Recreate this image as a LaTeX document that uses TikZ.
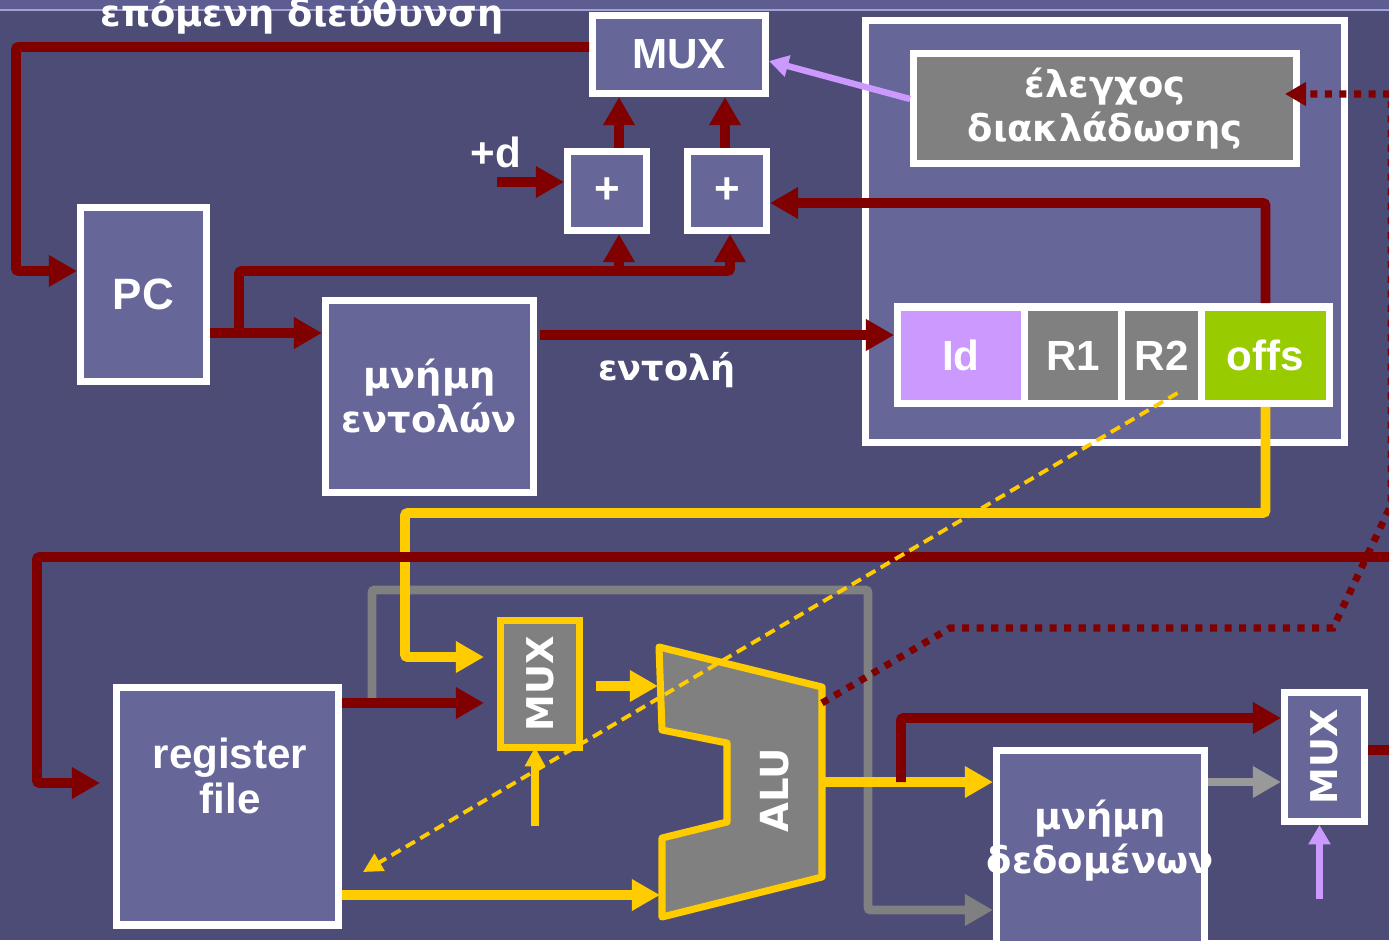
\documentclass[tikz,border=0pt]{standalone}
\usepackage{fontspec}
\setmainfont{Liberation Sans}
\newfontfamily\grfont{DejaVu Sans}
\usepackage{tikz}
\usetikzlibrary{arrows.meta, calc, positioning}
\definecolor{bgcol}{HTML}{4D4C77}
\definecolor{boxcol}{HTML}{666699}
\definecolor{bandcol}{HTML}{5E5D91}
\definecolor{bandline}{HTML}{A3A1D3}
\definecolor{darkred}{HTML}{800000}
\definecolor{busyel}{HTML}{FFCC00}
\definecolor{busgray}{HTML}{808080}
\definecolor{lightbus}{HTML}{999999}
\definecolor{lav}{HTML}{CC99FF}
\definecolor{offsgreen}{HTML}{99CC00}

\begin{document}
\begin{tikzpicture}[x=0.02cm, y=-0.02cm,
    blk/.style={draw=white, line width=4pt, fill=boxcol, text=white, inner sep=0pt,
      font=\bfseries\fontsize{24}{27}\selectfont},
    cell/.style={fill=#1, text=white, inner sep=0pt, outer sep=0pt, minimum height=1.78cm,
      font=\bfseries\fontsize{24}{26}\selectfont},
    lbl/.style={text=white, align=center, font=\bfseries\fontsize{24}{26}\selectfont},
    grlbl/.style={text=white, align=center, font=\grfont\bfseries\fontsize{21}{25}\selectfont},
    bus/.style={line width=5.6pt, rounded corners=1.5pt},
    redarr/.style={bus, draw=darkred, -{Triangle[length=16pt, width=17pt]}},
    yelarr/.style={bus, draw=busyel, -{Triangle[length=16pt, width=17pt]}},
    grayarr/.style={bus, line width=5pt, draw=busgray, -{Triangle[length=16pt, width=17pt]}},
    lavarr/.style={draw=lav, line width=3.6pt, -{Triangle[length=11pt, width=12pt]}},
    dotarr/.style={draw=darkred, line width=4pt, dash pattern=on 4pt off 4.3pt, -{Triangle[length=12pt, width=13pt]}},
    dasharr/.style={draw=busyel, line width=2.2pt, dash pattern=on 6pt off 3.5pt, -{Triangle[length=11pt, width=11pt]}}
  ]
  \useasboundingbox (0,0) rectangle (1389,940);
  \fill[bgcol] (0,0) rectangle (1389,940);
  \fill[bandcol] (0,0) rectangle (1389,9);
  \draw[bandline, line width=1.2pt] (0,10) -- (1389,10);

  \node[grlbl, anchor=base, font=\grfont\bfseries\fontsize{21}{25}\selectfont] (title) at (302,26) {επόμενη διεύθυνση};

  \node[blk, minimum width=9.58cm, minimum height=8.44cm] (ctrl) at (1105,231.5) {};
  \node[blk, fill=busgray, minimum width=7.66cm, minimum height=2.20cm, grlbl] (branch) at (1105,108.5) {έλεγχος\\διακλάδωσης};
  \node[fill=white, inner sep=0pt, outer sep=0pt, minimum width=8.78cm, minimum height=2.08cm] (instr) at (1113.5,355) {};
  \node[cell=lav, minimum width=2.40cm] (opc) at (961,355.5) {Id};
  \node[cell=busgray, minimum width=1.80cm] (r1) at (1073,355.5) {R1};
  \node[cell=busgray, minimum width=1.46cm] (r2) at (1161.5,355.5) {R2};
  \node[cell=offsgreen, minimum width=2.42cm] (offs) at (1265.5,355.5) {offs};

  \node[blk, minimum width=3.46cm, minimum height=1.56cm] (muxtop) at (679,54.5) {MUX};
  \node[blk, minimum width=1.58cm, minimum height=1.58cm, font=\bfseries\fontsize{25}{28}\selectfont] (addL) at (607,191) {+};
  \node[blk, minimum width=1.58cm, minimum height=1.58cm, font=\bfseries\fontsize{25}{28}\selectfont] (addR) at (727,191) {+};
  \node[lbl] (dlbl) at (496,152) {+d};
  \node[blk, font=\bfseries\fontsize{25}{28}\selectfont, minimum width=2.52cm, minimum height=3.48cm] (pc) at (143.5,294.5) {PC};
  \node[blk, grlbl, minimum width=4.16cm, minimum height=3.84cm] (imem) at (429.5,396.5) {μνήμη\\εντολών};
  \node[grlbl, font=\grfont\bfseries\fontsize{20}{24}\selectfont] (instrlbl) at (667,370) {εντολή};

  \node[blk, minimum width=4.44cm, minimum height=4.76cm] (regfile) at (227.5,806) {};
  \node[lbl] (regtxt) at (230,776) {register\\file};
  \node[blk, draw=busyel, fill=busgray, minimum width=1.58cm, minimum height=2.54cm,
    font=\grfont\bfseries\fontsize{21}{24}\selectfont] (muxlow) at (540,684) {\rotatebox{90}{MUX}};
  \node[blk, minimum width=4.16cm, minimum height=4.12cm] (dmem) at (1100.5,853.5) {};
  \node[grlbl] (dmemtxt) at (1100,841) {μνήμη\\δεδομένων};
  \node[blk, minimum width=1.60cm, minimum height=2.58cm,
    font=\grfont\bfseries\fontsize{21}{24}\selectfont] (muxout) at (1324.5,757) {\rotatebox{90}{MUX}};

  \coordinate (aluA) at (658,686);
  \coordinate (aluB) at (660,895);
  \coordinate (aluY) at (822,782);
  \coordinate (aluD) at (822,703);
  \draw[busyel, fill=busgray, line width=4pt, line join=round] (659,647) -- (822,687) -- (822,877) -- (662,917)
    -- (662,838) -- (727,822) -- (727,743) -- (662,730) -- cycle;
  \node[text=white, rotate=90, font=\grfont\bfseries\fontsize{22}{26}\selectfont] (alutxt) at (775,790) {ALU};

  \coordinate (gbus) at (868,590);
  \draw[grayarr] ($(regfile.east)+(30,-103)$) |- (gbus) |- ($(dmem.west)+(0,56.5)$);
  \draw[grayarr, draw=lightbus] ($(dmem.east)+(0,-71.5)$) -- ($(muxout.west)+(0,25)$);

  \coordinate (ybus) at (405,513);
  \draw[yelarr] (offs.south |- instr.south) |- (ybus) |- ($(muxlow.west)+(-13,-27)$);
  \draw[yelarr] ($(regfile.east)+(0,89)$) -- (aluB);
  \draw[yelarr] ($(muxlow.east)+(13,2)$) -- (aluA);
  \draw[yelarr, line width=4.5pt, -{Triangle[length=11pt, width=11pt]}] ($(muxlow.south)+(-5,75)$) -- ($(muxlow.south)+(-5,-4)$);
  \draw[yelarr] (aluY) -- ($(dmem.west)+(0,-71.5)$);

  \draw[redarr] ($(muxtop.west)+(0,-7.5)$) -| ($(pc.west)+(-61,-23.5)$) -- ($(pc.west)+(0,-23.5)$);
  \draw[redarr] ($(pc.east)+(0,38.5)$) -- ($(imem.west)+(0,-63.5)$);
  \coordinate (fork) at ($(pc.east)+(29,38.5)$);
  \draw[redarr] (fork) |- ($(addR.south)+(3,37)$) -- ($(addR.south)+(3,0)$);
  \draw[redarr] ($(addL.south)+(12,37)$) -- ($(addL.south)+(12,0)$);
  \draw[redarr] ($(addL.north)+(12,0)$) -- ($(muxtop.south)+(-60,0)$);
  \draw[redarr] ($(addR.north)+(-2,0)$) -- ($(muxtop.south)+(46,0)$);
  \draw[redarr] ($(addL.west)+(-67,-9)$) -- ($(addL.west)+(0,-9)$);
  \draw[redarr] ($(imem.east)+(3,-61.5)$) -- ($(instr.west)+(0,-20)$);
  \draw[redarr] (offs.north |- instr.north) |- ($(addR.east)+(0,12)$);
  \coordinate (wbin) at (1389,557);
  \draw[redarr] (wbin) -| ($(regfile.west)+(-76,-23)$) -- ($(regfile.west)+(-13,-23)$);
  \draw[redarr] ($(regfile.east)+(0,-103)$) -- ($(muxlow.west)+(-13,19)$);
  \draw[redarr] ($(aluY)+(79,0)$) |- ($(muxout.west)+(0,-39)$);
  \coordinate (wbout) at (1389,750);
  \draw[bus, draw=darkred] ($(muxout.east)+(0,-7)$) -- (wbout);

  \draw[dotarr] (aluD) -- (950,628) -- (1333,628) -- (1391,505) -- (1391,94) -- ($(branch.east)+(-15,-14.5)$);

  \draw[lavarr] ($(branch.west)+(0,-9.5)$) -- ($(muxtop.east)+(0,6.5)$);
  \draw[lavarr] ($(muxout.south)+(-5,74)$) -- ($(muxout.south)+(-5,0)$);

  \draw[dasharr] ($(r2.south)+(16,-7)$) -- ($(regfile.east)+(21,66)$);
\end{tikzpicture}
\end{document}
